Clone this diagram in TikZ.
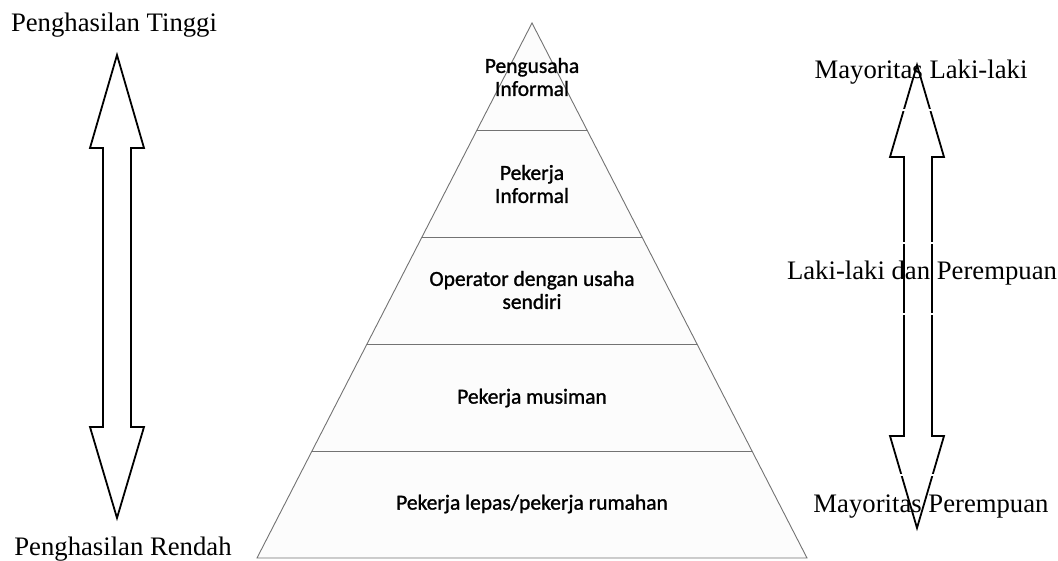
\documentclass[tikz,border=0pt]{standalone}
\usepackage{fontspec}
\usetikzlibrary{calc}
\setmainfont{Liberation Serif}
\newfontfamily\calib[RawFeature={embolden=1.2}]{Carlito}
\begin{document}
\begin{tikzpicture}[x=1pt,y=-1pt,
  lvl/.style={font=\calib\fontsize{21.5}{23}\selectfont, text=black, align=center, inner sep=0pt},
  lab/.style={font=\fontsize{26.7}{30}\selectfont, text=black, inner sep=0pt},
  bigarrow/.style={draw=black, line width=1.8pt, fill=white, line join=miter},
  pyr/.style={draw=black!55, line width=0.9pt}]
\useasboundingbox (0,0) rectangle (1058,561);
% pyramid
\coordinate (A) at (532,23);
\coordinate (BL) at (257,558);
\coordinate (BR) at (807,558);
\fill[white!99!black] (A) -- (BL) -- (BR) -- cycle;
\foreach \t in {0.2,0.4,0.6,0.8}
  \draw[pyr] ($(A)!\t!(BL)$) -- ($(A)!\t!(BR)$);
\draw[pyr] (A) -- (BL) -- (BR) -- cycle;
\node[lvl] (l1) at (532,77) {Pengusaha\\Informal};
\node[lvl] (l2) at (532,184) {Pekerja\\Informal};
\node[lvl] (l3) at (532,290) {Operator dengan usaha\\sendiri};
\node[lvl] (l4) at (532,398) {Pekerja musiman};
\node[lvl] (l5) at (532,504) {Pekerja lepas/pekerja rumahan};
% left double arrow
\draw[bigarrow] (117,55) -- (144,148) -- (131,148) -- (131,427) -- (144,427) -- (117,518)
  -- (90,427) -- (103,427) -- (103,148) -- (90,148) -- cycle;
% right double arrow
\draw[bigarrow] (917,65) -- (944,157) -- (932,157) -- (932,436) -- (944,436) -- (917,528)
  -- (890,436) -- (904,436) -- (904,157) -- (890,157) -- cycle;
% white text-box frame edges crossing the right arrow
\foreach \yy in {110,243,314,475}
  \draw[white, line width=1.5pt] (880,\yy) -- (955,\yy);
% labels
\node[lab] (ht) at (114,25) {Penghasilan Tinggi};
\node[lab] (hr) at (123,549) {Penghasilan Rendah};
\node[lab] (ml) at (921,72) {Mayoritas Laki-laki};
\node[lab] (lp) at (922,273) {Laki-laki dan Perempuan};
\node[lab] (mp) at (931,507) {Mayoritas Perempuan};
\end{tikzpicture}
\end{document}
